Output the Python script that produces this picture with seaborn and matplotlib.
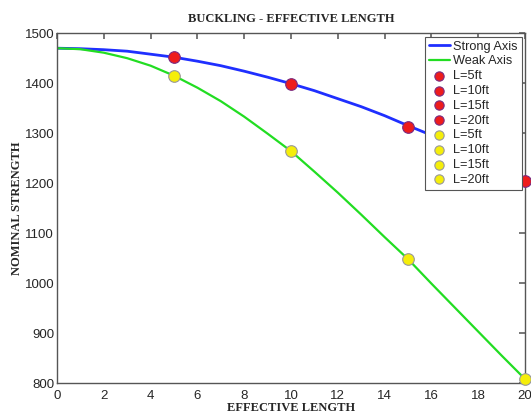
import matplotlib
matplotlib.use("Agg")
import matplotlib.pyplot as plt
import seaborn as sns
import pandas as pd

# Data
length = [0, 1, 2, 3, 4, 5, 6, 7, 8, 9, 10, 11, 12, 13, 14, 15, 16, 17, 18, 19, 20]
strong = [1470, 1469, 1467, 1464, 1458, 1452, 1444, 1435, 1424, 1412, 1399,
          1385, 1369, 1353, 1335, 1315, 1296, 1275, 1253, 1230, 1206]
weak = [1470, 1468, 1461, 1450, 1435, 1415, 1391, 1364, 1333, 1299, 1264,
        1223, 1181, 1137, 1092, 1048, 999, 951, 903, 855, 808]
point_L = [5, 10, 15, 20]
point_labels = ["L=5ft", "L=10ft", "L=15ft", "L=20ft"]
strong_pts = [1452, 1398, 1313, 1204]
weak_pts = [1415, 1265, 1048, 808]

sns.set_theme(style="white")
plt.rcParams["font.family"] = ["Liberation Sans", "DejaVu Sans"]

fig = plt.figure(figsize=(5.31, 4.13), dpi=100)
ax = fig.add_axes([0.1073, 0.0726, 0.8814, 0.847])

df = pd.DataFrame({"L": length, "strong": strong, "weak": weak})
sns.lineplot(data=df, x="L", y="strong", ax=ax, color="#1f2fff", lw=2, label="Strong Axis")
sns.lineplot(data=df, x="L", y="weak", ax=ax, color="#22dd22", lw=1.6, label="Weak Axis")

for xv, yv, lab in zip(point_L, strong_pts, point_labels):
    sns.scatterplot(x=[xv], y=[yv], ax=ax, color="#ee1c1c", edgecolor="#7a2a80",
                    s=70, linewidth=0.8, label=lab, zorder=5, clip_on=False)
for xv, yv, lab in zip(point_L, weak_pts, point_labels):
    sns.scatterplot(x=[xv], y=[yv], ax=ax, color="#f5ee0a", edgecolor="#999999",
                    s=70, linewidth=0.8, label=lab, zorder=5, clip_on=False)

ax.set_xlim(0, 20)
ax.set_ylim(800, 1500)
ax.set_xticks(range(0, 21, 2))
ax.set_yticks(range(800, 1501, 100))
ax.tick_params(direction="in", length=4, top=True, right=True, labelsize=9.5,
               color="#666666")
ax.tick_params(axis="x", pad=5)
ax.tick_params(axis="y", pad=2)
for sp in ax.spines.values():
    sp.set_color("#555555")
    sp.set_linewidth(1.0)

serif = ["Liberation Serif", "DejaVu Serif"]
ax.set_title("BUCKLING - EFFECTIVE LENGTH", fontsize=9, fontweight="bold",
             family=serif, pad=8)
ax.set_xlabel("EFFECTIVE LENGTH", fontsize=9, fontweight="bold", family=serif, labelpad=0)
ax.set_ylabel("NOMINAL STRENGTH", fontsize=9, fontweight="bold", family=serif, labelpad=1)

leg = ax.legend(loc="upper right", bbox_to_anchor=(0.993, 0.99), fontsize=9.2,
                labelspacing=0.22, handlelength=1.6, handletextpad=0.3,
                borderpad=0.3, borderaxespad=0.0, fancybox=False, framealpha=1,
                edgecolor="#555555", markerscale=0.8)
leg.get_frame().set_linewidth(0.8)

fig.savefig("out.png", dpi=100)
